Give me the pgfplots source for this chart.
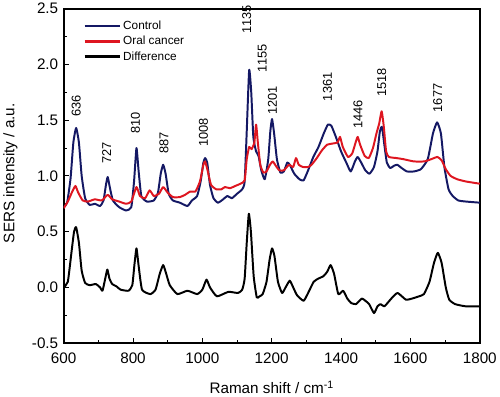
\documentclass[border=0pt]{standalone}
\usepackage{pgfplots}
\pgfplotsset{compat=1.18}
\usepackage{fontspec}
\setmainfont{Liberation Sans}
\definecolor{ctrl}{RGB}{20,24,100}
\definecolor{canc}{RGB}{222,22,32}
\begin{document}
\begin{tikzpicture}
\begin{axis}[
  scale only axis, width=423pt, height=340pt,
  xmin=600, xmax=1800, ymin=-0.5, ymax=2.5,
  xtick={600,800,...,1800}, minor xtick={700,900,...,1700},
  ytick={-0.5,0,0.5,1,1.5,2,2.5}, minor ytick={-0.25,0.25,0.75,1.25,1.75,2.25},
  tick pos=left, tick align=inside,
  major tick length=5pt, minor tick length=3pt,
  every tick/.style={black, line width=1pt},
  axis line style={line width=2pt},
  /pgf/number format/assume math mode=true,
  xticklabel style={font=\fontsize{15.5}{17}\selectfont, /pgf/number format/1000 sep={}, yshift=-6pt},
  yticklabel style={font=\fontsize{15.5}{17}\selectfont, xshift=-2pt, /pgf/number format/fixed, /pgf/number format/fixed zerofill, /pgf/number format/precision=1},
  xlabel={Raman shift / cm\textsuperscript{-1}},
  ylabel={SERS intensity / a.u.},
  xlabel style={font=\fontsize{15.5}{17}\selectfont, at={(axis description cs:0.5,-0.132)}, anchor=center},
  ylabel style={font=\fontsize{15.5}{17}\selectfont, at={(axis description cs:-0.128,0.508)}, anchor=center},
  legend style={at={(axis description cs:0.04,0.975)}, anchor=north west, draw=none, fill=none,
    font=\fontsize{12}{14}\selectfont, row sep=1.2pt},
  legend cell align=left,
  legend image code/.code={\draw[#1,line width=2.4pt] (0pt,0pt) -- (36pt,0pt);},
  clip mode=individual,
]
\addplot[ctrl, line width=2pt, line join=round, smooth, tension=0.3] coordinates {
(600,0.72)(610,0.76)(620,0.98)(628,1.30)(636,1.43)(644,1.30)(652,1.00)(662,0.80)(675,0.74)(690,0.75)
(705,0.73)(715,0.78)(722,0.92)(727,0.99)(733,0.90)(742,0.78)(760,0.72)(780,0.69)(795,0.72)(803,0.95)
(810,1.25)(816,1.05)(824,0.82)(840,0.77)(860,0.78)(872,0.85)(880,1.02)(887,1.10)(894,1.02)(903,0.84)
(915,0.78)(935,0.76)(957,0.73)(970,0.78)(985,0.82)(995,0.95)(1003,1.12)(1008,1.16)(1014,1.12)(1022,0.92)
(1032,0.80)(1045,0.76)(1060,0.79)(1072,0.82)(1085,0.80)(1100,0.84)(1115,0.88)(1122,0.95)(1128,1.40)(1135,1.95)
(1141,1.75)(1147,1.35)(1155,1.22)(1162,1.18)(1170,1.05)(1180,0.97)(1190,1.15)(1196,1.40)(1201,1.51)(1207,1.38)
(1215,1.15)(1225,1.03)(1235,1.04)(1245,1.12)(1252,1.10)(1265,1.02)(1280,0.97)(1292,0.96)(1305,1.05)(1320,1.17)
(1335,1.26)(1350,1.38)(1362,1.46)(1372,1.45)(1385,1.35)(1400,1.22)(1415,1.12)(1428,1.04)(1440,1.13)(1448,1.17)
(1458,1.12)(1470,1.05)(1482,1.02)(1495,1.08)(1505,1.22)(1512,1.40)(1518,1.44)(1524,1.30)(1532,1.12)(1542,1.07)
(1552,1.09)(1562,1.10)(1575,1.07)(1590,1.04)(1610,1.04)(1630,1.06)(1650,1.15)(1665,1.38)(1677,1.48)(1688,1.38)
(1698,1.08)(1710,0.88)(1722,0.82)(1738,0.78)(1760,0.77)(1800,0.76)
};
\addlegendentry{Control}
\addplot[canc, line width=2pt, line join=round, smooth, tension=0.3] coordinates {
(600,0.71)(612,0.77)(625,0.86)(634,0.91)(642,0.85)(655,0.78)(670,0.77)(690,0.79)(710,0.78)(727,0.83)
(740,0.79)(760,0.77)(780,0.75)(795,0.77)(810,0.90)(820,0.82)(835,0.80)(848,0.87)(860,0.82)(875,0.84)
(887,0.90)(900,0.85)(915,0.81)(935,0.81)(950,0.83)(965,0.86)(980,0.86)(993,0.95)(1003,1.10)(1008,1.13)
(1015,1.05)(1025,0.92)(1040,0.88)(1055,0.88)(1065,0.90)(1080,0.89)(1095,0.91)(1110,0.93)(1122,0.96)(1128,1.15)
(1135,1.26)(1142,1.24)(1150,1.30)(1155,1.46)(1160,1.30)(1167,1.10)(1176,1.03)(1185,1.04)(1195,1.10)(1203,1.13)
(1212,1.09)(1222,1.05)(1235,1.05)(1250,1.10)(1262,1.08)(1270,1.16)(1278,1.10)(1290,1.08)(1305,1.08)(1315,1.10)
(1330,1.16)(1345,1.23)(1360,1.28)(1375,1.29)(1390,1.30)(1397,1.35)(1405,1.26)(1420,1.17)(1432,1.20)(1442,1.30)
(1448,1.35)(1455,1.28)(1468,1.18)(1480,1.16)(1492,1.25)(1502,1.38)(1510,1.47)(1517,1.58)(1523,1.45)(1530,1.22)
(1538,1.17)(1560,1.16)(1580,1.15)(1610,1.13)(1640,1.13)(1660,1.15)(1678,1.17)(1690,1.14)(1702,1.06)(1716,1.00)
(1735,0.97)(1760,0.95)(1800,0.93)
};
\addlegendentry{Oral cancer}
\addplot[black, line width=2pt, line join=round, smooth, tension=0.3] coordinates {
(600,0.00)(612,0.05)(622,0.30)(630,0.50)(636,0.54)(644,0.40)(652,0.15)(662,0.04)(675,0.02)(693,0.03)
(705,0.00)(712,-0.03)(720,0.08)(726,0.16)(732,0.08)(740,0.03)(752,0.01)(764,-0.02)(787,-0.03)(798,0.02)
(804,0.20)(810,0.35)(816,0.20)(826,-0.02)(850,-0.06)(865,-0.02)(877,0.12)(887,0.20)(896,0.12)(906,0.02)
(928,-0.06)(957,-0.03)(985,-0.06)(1000,-0.02)(1012,0.07)(1022,0.00)(1042,-0.08)(1075,-0.04)(1103,-0.05)(1115,-0.02)
(1122,0.08)(1128,0.40)(1134,0.66)(1140,0.50)(1148,0.10)(1157,-0.09)(1165,-0.08)(1174,-0.06)(1185,0.05)(1194,0.25)
(1201,0.35)(1208,0.28)(1218,0.05)(1230,-0.05)(1240,0.00)(1252,0.06)(1262,0.00)(1273,-0.07)(1292,-0.12)(1305,-0.05)
(1321,0.05)(1335,0.08)(1349,0.10)(1360,0.14)(1370,0.20)(1380,0.12)(1392,-0.06)(1406,-0.03)(1418,-0.10)(1429,-0.14)
(1443,-0.15)(1460,-0.10)(1470,-0.12)(1481,-0.15)(1495,-0.23)(1505,-0.17)(1514,-0.15)(1525,-0.17)(1545,-0.10)(1563,-0.05)
(1587,-0.11)(1605,-0.10)(1625,-0.08)(1639,-0.06)(1655,0.05)(1668,0.22)(1679,0.31)(1690,0.22)(1702,0.00)(1712,-0.11)
(1729,-0.15)(1760,-0.17)(1800,-0.17)
};
\addlegendentry{Difference}
\begin{scope}[every node/.style={rotate=90, anchor=west, inner sep=0pt, font=\fontsize{13}{15}\selectfont}]
\node at (axis cs:636,1.53) {636};
\node at (axis cs:724,1.11) {727};
\node at (axis cs:807,1.38) {810};
\node at (axis cs:889,1.20) {887};
\node at (axis cs:1003,1.26) {1008};
\node at (axis cs:1128,2.28) {1135};
\node at (axis cs:1173,1.93) {1155};
\node at (axis cs:1202,1.55) {1201};
\node at (axis cs:1361,1.67) {1361};
\node at (axis cs:1449,1.42) {1446};
\node at (axis cs:1517,1.71) {1518};
\node at (axis cs:1679,1.57) {1677};
\end{scope}
\end{axis}
\end{tikzpicture}
\end{document}
